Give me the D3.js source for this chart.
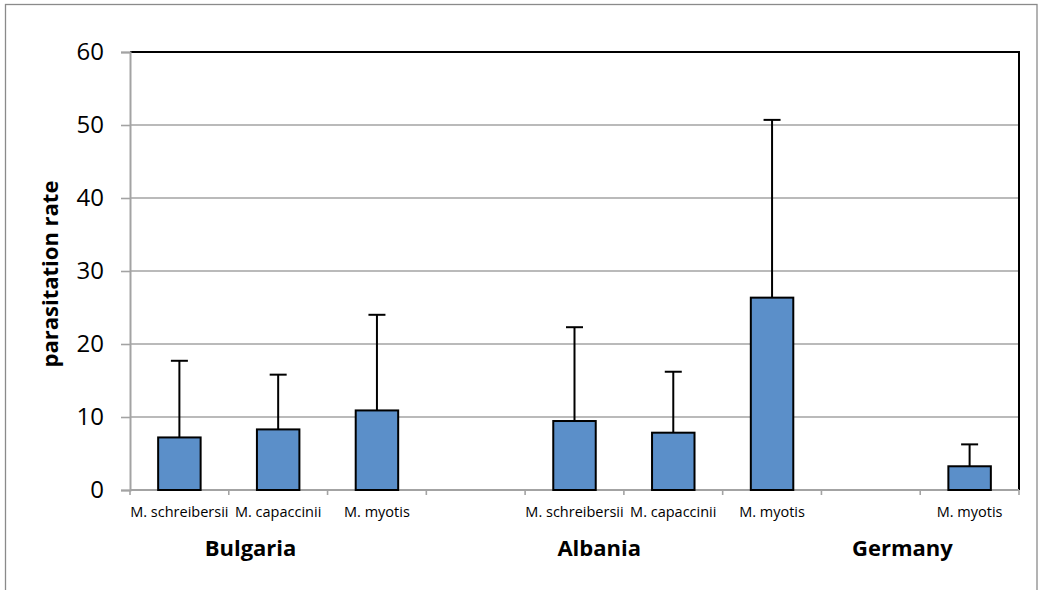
<!DOCTYPE html>
<html>
<head>
<meta charset="utf-8">
<script src="https://cdn.jsdelivr.net/npm/d3@7"></script>
<style>
  html, body { margin: 0; padding: 0; background: #fff; }
  svg { display: block; }
  text { font-family: "Open Sans", "Liberation Sans", sans-serif; fill: #000; }
</style>
</head>
<body>
<svg id="chart" width="1042" height="590"></svg>
<script>
// Species slots along the x axis (empty strings are spacer slots between countries)
const species = ["M. schreibersii", "M. capaccinii", "M. myotis", "",
                 "M. schreibersii", "M. capaccinii", "M. myotis", "",
                 "M. myotis"];
// Mean parasitation rate per slot
const rates = [7.2, 8.3, 10.9, null, 9.45, 7.85, 26.35, null, 3.25];
// Upper error (SD) per slot
const errors = [10.5, 7.5, 13.1, null, 12.85, 8.35, 24.35, null, 3.0];
// Country group labels
const countries = ["Bulgaria", "Albania", "Germany"];
// Y axis ticks
const yTicks = [0, 10, 20, 30, 40, 50, 60];

const svg = d3.select("#chart");
const W = 1042, H = 590;
const m = { left: 130, top: 52, right: 1042 - 1019, bottom: 590 - 490 };
const iw = W - m.left - m.right, ih = H - m.top - m.bottom;

// Outer frame
svg.append("rect")
  .attr("x", 5.5).attr("y", 4.5)
  .attr("width", 1031.5).attr("height", 600)
  .attr("fill", "none").attr("stroke", "#8a8a8a").attr("stroke-width", 1.3);

const g = svg.append("g").attr("transform", `translate(${m.left},${m.top})`);

const x = d3.scaleBand().domain(d3.range(species.length)).range([0, iw]).padding(0);
const y = d3.scaleLinear().domain([0, 60]).range([ih, 0]);

// Horizontal gridlines
g.append("g").selectAll("line")
  .data(yTicks.filter(t => t > 0 && t < 60))
  .join("line")
  .attr("x1", 0).attr("x2", iw)
  .attr("y1", d => y(d)).attr("y2", d => y(d))
  .attr("stroke", "#a3a3a3").attr("stroke-width", 1.6);

// Top and right plot border
g.append("path")
  .attr("d", `M0,${y(60)}H${iw}V${ih}`)
  .attr("fill", "none").attr("stroke", "#000").attr("stroke-width", 2);

// Y axis
const yAxis = g.append("g").call(d3.axisLeft(y).tickValues(yTicks).tickSize(9).tickPadding(17));
yAxis.select(".domain").attr("stroke", "#a3a3a3").attr("stroke-width", 2);
yAxis.selectAll(".tick line").attr("stroke", "#a3a3a3").attr("stroke-width", 1.6);
yAxis.selectAll(".tick text").attr("font-size", 24).attr("font-family", "Open Sans").attr("fill", "#000");

// X axis: slot boundary ticks
const xg = g.append("g").attr("transform", `translate(0,${ih})`);
xg.append("line").attr("x1", 0).attr("x2", iw).attr("y1", 0).attr("y2", 0)
  .attr("stroke", "#a3a3a3").attr("stroke-width", 2);
xg.selectAll("line.tk")
  .data(d3.range(species.length + 1))
  .join("line").attr("class", "tk")
  .attr("x1", d => d * x.step()).attr("x2", d => d * x.step())
  .attr("y1", 0).attr("y2", 5)
  .attr("stroke", "#a3a3a3").attr("stroke-width", 1.6);

// Species labels
xg.selectAll("text.sp")
  .data(species.map((s, i) => ({ s, i })).filter(d => d.s))
  .join("text").attr("class", "sp")
  .attr("x", d => x(d.i) + x.bandwidth() / 2)
  .attr("y", 27)
  .attr("text-anchor", "middle")
  .attr("font-size", 14.5)
  .text(d => d.s);

// Country labels, positioned relative to the slots they describe
const countryAnchor = [1.22, 4.75, 7.82];
xg.selectAll("text.ct")
  .data(countries)
  .join("text").attr("class", "ct")
  .attr("x", (d, i) => countryAnchor[i] * x.step())
  .attr("y", 66)
  .attr("text-anchor", "middle")
  .attr("font-size", 22).attr("font-weight", "bold")
  .text(d => d);

// Bars and error bars
const barW = x.bandwidth() * 0.43;
const cap = 17;
const data = rates.map((v, i) => ({ i, v, e: errors[i] })).filter(d => d.v != null);

const eb = g.append("g");
eb.selectAll("line.err")
  .data(data).join("line").attr("class", "err")
  .attr("x1", d => x(d.i) + x.bandwidth() / 2).attr("x2", d => x(d.i) + x.bandwidth() / 2)
  .attr("y1", d => y(d.v)).attr("y2", d => y(d.v + d.e))
  .attr("stroke", "#000").attr("stroke-width", 2);
eb.selectAll("line.cap")
  .data(data).join("line").attr("class", "cap")
  .attr("x1", d => x(d.i) + x.bandwidth() / 2 - cap / 2)
  .attr("x2", d => x(d.i) + x.bandwidth() / 2 + cap / 2)
  .attr("y1", d => y(d.v + d.e)).attr("y2", d => y(d.v + d.e))
  .attr("stroke", "#000").attr("stroke-width", 2);

g.append("g").selectAll("rect")
  .data(data).join("rect")
  .attr("x", d => x(d.i) + (x.bandwidth() - barW) / 2)
  .attr("width", barW)
  .attr("y", d => y(d.v))
  .attr("height", d => y(0) - y(d.v))
  .attr("fill", "#5b8fc9")
  .attr("stroke", "#000").attr("stroke-width", 2);

// Y axis title
svg.append("text")
  .attr("transform", `translate(58,274) rotate(-90)`)
  .attr("text-anchor", "middle")
  .attr("font-size", 22).attr("font-weight", "bold")
  .text("parasitation rate");
</script>
</body>
</html>
